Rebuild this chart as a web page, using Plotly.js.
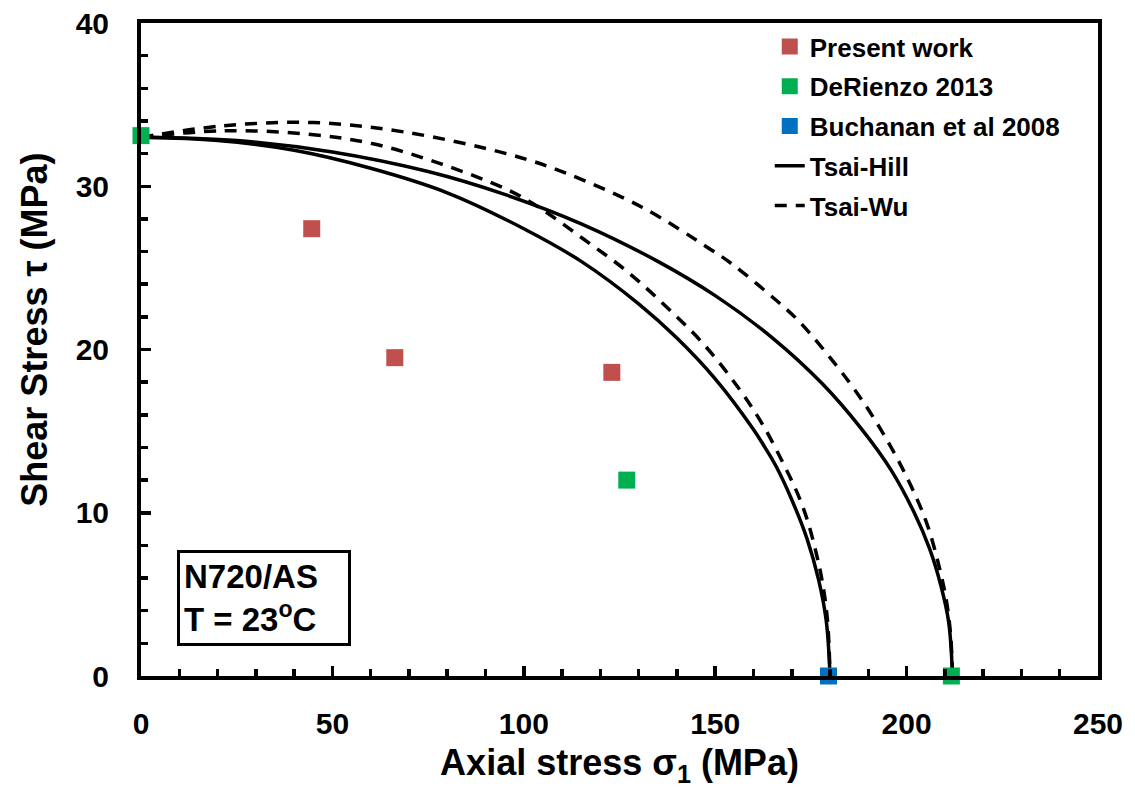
<!DOCTYPE html>
<html>
<head>
<meta charset="utf-8">
<script src="https://cdn.plot.ly/plotly-3.0.1.min.js"></script>
<style>
html,body{margin:0;padding:0;background:#fff;}
#chart{width:1135px;height:795px;}
</style>
</head>
<body>
<div id="chart"></div>
<script>
// Data points
const presentX = [44.6, 66.3, 123.0];
const presentY = [27.4, 19.5, 18.6];
const derienzoX = [0, 126.9, 211.7];
const derienzoY = [33.1, 12.0, 0];
const buchananX = [179.6];
const buchananY = [0];

// Tsai-Hill curves
const hillInnerX = [0, 20, 40, 60, 80, 100, 115, 130, 140, 150, 160, 163, 166, 170, 174, 177, 179, 180];
const hillInnerY = [33.0, 32.8, 32.2, 31.1, 29.6, 27.4, 25.4, 22.8, 20.7, 18.2, 15.1, 14.0, 12.8, 10.8, 8.4, 5.9, 3.4, 0];
const hillOuterX = [0, 25, 50, 75, 95, 115, 135, 150, 165, 178, 188, 196, 202, 206, 209, 211, 212];
const hillOuterY = [33.0, 32.8, 32.1, 30.9, 29.5, 27.7, 25.4, 23.3, 20.7, 17.9, 15.2, 12.6, 10.0, 7.8, 5.5, 3.3, 0];
// Tsai-Wu curves
const wuInnerX = [0, 21.4, 43.3, 60.6, 78, 95.6, 104, 115.4, 126.9, 137.3, 146.7, 155.6, 162.4, 169.5, 172, 174, 176, 177.8, 179.3, 180];
const wuInnerY = [33.0, 33.4, 33.2, 32.6, 31.4, 29.8, 28.7, 26.8, 24.8, 22.6, 20.4, 17.8, 15.4, 12.2, 10.9, 9.6, 7.9, 6.0, 3.5, 0];
const wuOuterX = [0, 21.4, 45, 69.4, 97, 111, 131, 149, 154.6, 166, 172, 185, 193, 200, 205.2, 208.6, 210.4, 211.5, 212];
const wuOuterY = [33.0, 33.7, 33.9, 33.3, 31.9, 30.8, 28.7, 26.1, 25.2, 23.0, 21.7, 18.0, 15.2, 12.2, 9.4, 6.6, 4.6, 2.5, 0];

const FONT = 'Liberation Sans, Arial, sans-serif';
const lineStyle = {color: '#000', width: 3.5, shape: 'spline', smoothing: 1};
const dashStyle = {color: '#000', width: 3.5, dash: '12px,9px', shape: 'spline', smoothing: 1};

const traces = [
  {x: hillInnerX, y: hillInnerY, mode: 'lines', line: lineStyle, name: 'Tsai-Hill', legendgroup: 'g4', legendrank: 4, showlegend: true},
  {x: hillOuterX, y: hillOuterY, mode: 'lines', line: lineStyle, name: 'Tsai-Hill', legendgroup: 'g4', showlegend: false},
  {x: wuInnerX, y: wuInnerY, mode: 'lines', line: dashStyle, name: 'Tsai-Wu', legendgroup: 'g5', legendrank: 5, showlegend: true},
  {x: wuOuterX, y: wuOuterY, mode: 'lines', line: dashStyle, name: 'Tsai-Wu', legendgroup: 'g5', showlegend: false},
  {x: presentX, y: presentY, mode: 'markers', name: 'Present work', legendgroup: 'g1', legendrank: 1,
   marker: {symbol: 'square', size: 17, color: '#C0504D'}, cliponaxis: false},
  {x: derienzoX, y: derienzoY, mode: 'markers', name: 'DeRienzo 2013', legendgroup: 'g2', legendrank: 2,
   marker: {symbol: 'square', size: 17, color: '#00B050'}, cliponaxis: false},
  {x: buchananX, y: buchananY, mode: 'markers', name: 'Buchanan et al 2008', legendgroup: 'g3', legendrank: 3,
   marker: {symbol: 'square', size: 17, color: '#0070C0'}, cliponaxis: false}
];

const layout = {
  width: 1135, height: 795,
  margin: {l: 141, r: 37, t: 23, b: 119},
  paper_bgcolor: '#fff', plot_bgcolor: '#fff',
  font: {family: FONT, color: '#000'},
  showlegend: true,
  legend: {
    x: 0.657, y: 1.0, xanchor: 'left', yanchor: 'top',
    font: {family: FONT, size: 26, color: '#000', weight: 'bold'},
    bgcolor: 'rgba(0,0,0,0)', traceorder: 'grouped', tracegroupgap: 3
  },
  xaxis: {
    range: [0, 250], tick0: 0, dtick: 50,
    ticks: 'inside', ticklen: 10, tickwidth: 3.5, tickcolor: '#000',
    minor: {dtick: 10, ticks: 'inside', ticklen: 7, tickwidth: 3.5, tickcolor: '#000'},
    showline: true, linewidth: 4, linecolor: '#000', mirror: true,
    showgrid: false, zeroline: false,
    tickfont: {family: FONT, size: 30, weight: 'bold'},
    ticklabelstandoff: 18,
    title: {text: 'Axial stress σ<sub>1</sub> (MPa)', font: {family: FONT, size: 36, weight: 'bold'}, standoff: 12}
  },
  yaxis: {
    range: [0, 40], tick0: 0, dtick: 10,
    ticks: 'inside', ticklen: 10, tickwidth: 3.5, tickcolor: '#000',
    minor: {dtick: 2, ticks: 'inside', ticklen: 7, tickwidth: 3.5, tickcolor: '#000'},
    showline: true, linewidth: 4, linecolor: '#000', mirror: true,
    showgrid: false, zeroline: false,
    tickfont: {family: FONT, size: 30, weight: 'bold'},
    ticklabelstandoff: 22
  },
  annotations: [{
    xref: 'x', yref: 'y', x: 32.2, y: 4.78, xanchor: 'center', yanchor: 'middle',
    text: 'N720/AS<br>T = 23<sup>o</sup>C', align: 'left', showarrow: false,
    font: {family: FONT, size: 33, weight: 'bold', color: '#000'},
    bordercolor: '#000', borderwidth: 3, borderpad: 4, bgcolor: '#fff',
    width: 160, height: 82
  }, {
    xref: 'paper', yref: 'paper', x: -0.111, y: 0.53, xanchor: 'center', yanchor: 'middle',
    text: 'Shear Stress τ (MPa)', textangle: -90, showarrow: false,
    font: {family: FONT, size: 36, weight: 'bold', color: '#000'}
  }]
};

Plotly.newPlot('chart', traces, layout, {displayModeBar: false, staticPlot: true});
</script>
</body>
</html>
